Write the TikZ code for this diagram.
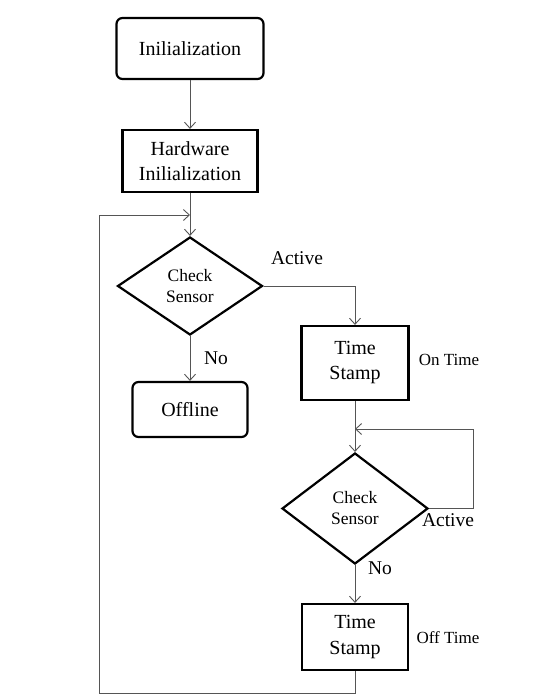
\documentclass[tikz,border=0pt]{standalone}
\usepackage{fontspec}
\setmainfont{Liberation Serif}
\usetikzlibrary{shapes.geometric,arrows.meta}
\definecolor{conn}{HTML}{555555}
\tikzset{
  x=1pt, y=-1pt,
  rbox/.style={draw=black, line width=2.2pt, rounded corners=6pt, align=center, font=\fontsize{20}{25}\selectfont, inner sep=0pt},
  sbox/.style={draw=black, line width=2.2pt, align=center, font=\fontsize{20}{25}\selectfont, inner sep=0pt},
  dia/.style={draw=black, line width=2.2pt, diamond, align=center, font=\fontsize{17.5}{21}\selectfont, inner sep=0pt},
  lbl/.style={font=\fontsize{19.5}{22}\selectfont, inner sep=0pt},
  slbl/.style={font=\fontsize{17}{20}\selectfont, inner sep=0pt},
  conn/.style={draw=conn, line width=0.9pt, -{Straight Barb[length=6pt,width=11pt]}},
  line/.style={draw=conn, line width=0.9pt}
}
\begin{document}
\begin{tikzpicture}
\useasboundingbox[fill=white] (0,0) rectangle (546,696);
\node[rbox, minimum width=147pt, minimum height=61pt] (init) at (190,48.5) {Inilialization};
\node[sbox, minimum width=135pt, minimum height=62pt] (hw) at (190,161) {Hardware\\Inilialization};
\node[dia, minimum width=145pt, minimum height=98pt] (d1) at (190,286) {Check\\Sensor};
\node[rbox, minimum width=115pt, minimum height=55pt] (off) at (190,409.5) {Offline};
\node[sbox, minimum width=107pt, minimum height=74pt] (ts1) at (355,363) {Time\\Stamp};
\node[dia, minimum width=146pt, minimum height=111pt] (d2) at (355,508.5) {Check\\Sensor};
\node[sbox, minimum width=106pt, minimum height=66pt] (ts2) at (355,637) {Time\\Stamp};

\node[lbl] (act1) at (297,258) {Active};
\node[lbl] (no1) at (216,358) {No};
\node[slbl] (on) at (449,360) {On Time};
\node[lbl] (act2) at (448,520) {Active};
\node[lbl] (no2) at (380,568) {No};
\node[slbl] (offt) at (448,638) {Off Time};

\coordinate (m1) at (190,215);
\coordinate (bl) at (99,693);
\coordinate (m2) at (355,429);
\coordinate (r2) at (473,508.5);

\draw[conn] (init.south) -- (hw.north);
\draw[conn] (hw.south) -- (d1.north);
\draw[conn] (d1.south) -- (off.north);
\draw[conn] (d1.east) -- (d1.east -| ts1.north) -- (ts1.north);
\draw[conn] (ts1.south) -- (d2.north);
\draw[conn] (d2.south) -- (ts2.north);
\draw[conn] (d2.east) -- (r2) |- (m2);
\draw[conn] (ts2.south) -- (ts2.south |- bl) -- (bl) |- (m1);
\end{tikzpicture}
\end{document}
